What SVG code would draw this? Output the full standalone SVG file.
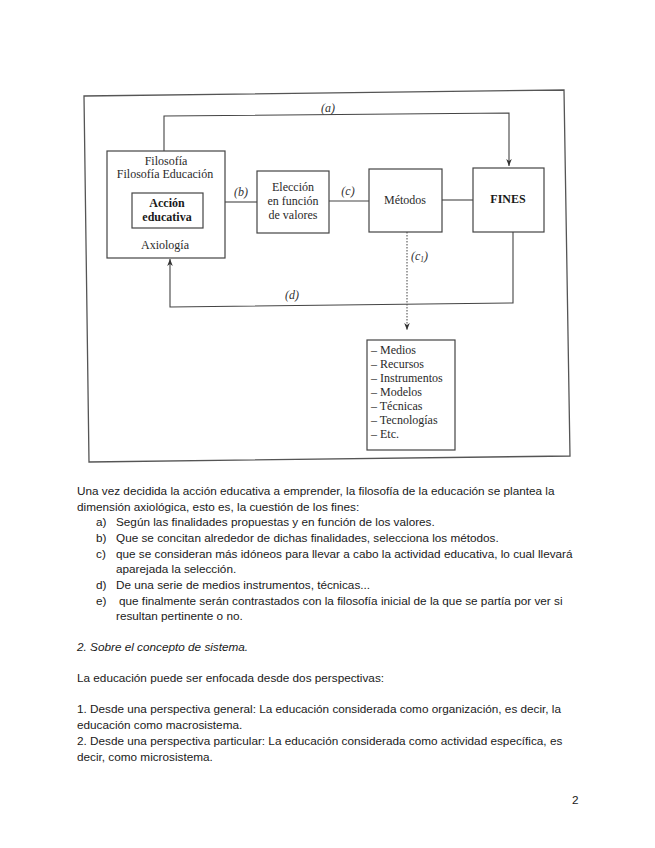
<svg xmlns="http://www.w3.org/2000/svg" width="655" height="848" viewBox="0 0 655 848">
<style>
.bg{fill:#ffffff}
.frame{fill:none;stroke:#555;stroke-width:1.3}
.box{fill:#ffffff;stroke:#444;stroke-width:1.2}
.ln{fill:none;stroke:#444;stroke-width:1.1}
.dot{fill:none;stroke:#555;stroke-width:1.1;stroke-dasharray:1.5 1.5}
.dt{font-family:"Liberation Serif","Times New Roman",serif;font-size:12px;fill:#2a2a2a}
.dtb{font-family:"Liberation Serif","Times New Roman",serif;font-size:12px;font-weight:bold;fill:#1a1a1a}
.lbl{font-family:"Liberation Serif","Times New Roman",serif;font-size:12px;font-style:italic;fill:#333}
.bt{font-family:"Liberation Sans",Arial,sans-serif;font-size:11.75px;fill:#1a1a1a}
.bti{font-family:"Liberation Sans",Arial,sans-serif;font-size:11.75px;font-style:italic;fill:#1a1a1a}
</style>
<defs>
<marker id="ah" viewBox="0 0 10 10" refX="10" refY="5" markerWidth="7" markerHeight="9" markerUnits="userSpaceOnUse" orient="auto">
<path d="M0,1 L10,5 L0,9 L3,5 z" fill="#333"/>
</marker>
</defs>
<rect class="bg" x="0" y="0" width="655" height="848"/>
<polygon class="frame" points="84,96 564,90 570,456 89,462"/>

<g id="connectors">
<path class="ln" d="M164,151 L164,116 L509,113 L509,166" marker-end="url(#ah)"/>
<line class="ln" x1="225" y1="202" x2="257" y2="202"/>
<line class="ln" x1="329" y1="201" x2="369" y2="201"/>
<line class="ln" x1="442" y1="200" x2="473" y2="200"/>
<path class="ln" d="M513,232 L513,303 L170,307 L170,259" marker-end="url(#ah)"/>
<path class="dot" d="M407,232 L407,330" marker-end="url(#ah)"/>
<text class="lbl" x="328" y="112" text-anchor="middle">(a)</text>
<text class="lbl" x="241" y="196" text-anchor="middle">(b)</text>
<text class="lbl" x="348" y="195" text-anchor="middle">(c)</text>
<text class="lbl" x="411" y="260">(c<tspan font-size="7.5" dy="2">1</tspan><tspan dy="-2">)</tspan></text>
<text class="lbl" x="292" y="299" text-anchor="middle">(d)</text>
</g>

<g id="filosofia">
<rect class="box" x="107" y="151" width="118" height="107"/>
<text class="dt" x="166" y="165" text-anchor="middle">Filosofía</text>
<text class="dt" x="165" y="178" text-anchor="middle">Filosofía Educación</text>
<rect class="box" x="132" y="193" width="71" height="35"/>
<text class="dtb" x="167" y="207" text-anchor="middle">Acción</text>
<text class="dtb" x="167" y="221" text-anchor="middle">educativa</text>
<text class="dt" x="165" y="249" text-anchor="middle">Axiología</text>
</g>

<g id="eleccion">
<rect class="box" x="257" y="171" width="72" height="62"/>
<text class="dt" x="293" y="191" text-anchor="middle">Elección</text>
<text class="dt" x="293" y="205" text-anchor="middle">en función</text>
<text class="dt" x="293" y="219" text-anchor="middle">de valores</text>
</g>

<g id="metodos">
<rect class="box" x="369" y="169" width="73" height="63"/>
<text class="dt" x="405" y="204" text-anchor="middle">Métodos</text>
</g>

<g id="fines">
<rect class="box" x="473" y="168" width="71" height="64"/>
<text class="dtb" x="508" y="203" text-anchor="middle">FINES</text>
</g>

<g id="medios">
<rect class="box" x="367" y="340" width="88" height="110"/>
<text class="dt" x="371" y="354">– Medios</text>
<text class="dt" x="371" y="368">– Recursos</text>
<text class="dt" x="371" y="382">– Instrumentos</text>
<text class="dt" x="371" y="396">– Modelos</text>
<text class="dt" x="371" y="410">– Técnicas</text>
<text class="dt" x="371" y="424">– Tecnologías</text>
<text class="dt" x="371" y="438">– Etc.</text>
</g>

<g id="texto">
<text class="bt" x="77" y="495">Una vez decidida la acción educativa a emprender, la filosofía de la educación se plantea la</text>
<text class="bt" x="77" y="511">dimensión axiológica, esto es, la cuestión de los fines:</text>
<text class="bt" x="96" y="526">a)</text>
<text class="bt" x="116" y="526">Según las finalidades propuestas y en función de los valores.</text>
<text class="bt" x="96" y="542">b)</text>
<text class="bt" x="116" y="542">Que se concitan alrededor de dichas finalidades, selecciona los métodos.</text>
<text class="bt" x="96" y="558">c)</text>
<text class="bt" x="116" y="558">que se consideran más idóneos para llevar a cabo la actividad educativa, lo cual llevará</text>
<text class="bt" x="116" y="573">aparejada la selección.</text>
<text class="bt" x="96" y="589">d)</text>
<text class="bt" x="116" y="589">De una serie de medios instrumentos, técnicas...</text>
<text class="bt" x="96" y="605">e)</text>
<text class="bt" x="119" y="605">que finalmente serán contrastados con la filosofía inicial de la que se partía por ver si</text>
<text class="bt" x="116" y="620">resultan pertinente o no.</text>
<text class="bti" x="77" y="651">2. Sobre el concepto de sistema.</text>
<text class="bt" x="77" y="682">La educación puede ser enfocada desde dos perspectivas:</text>
<text class="bt" x="77" y="713">1. Desde una perspectiva general: La educación considerada como organización, es decir, la</text>
<text class="bt" x="77" y="729">educación como macrosistema.</text>
<text class="bt" x="77" y="745">2. Desde una perspectiva particular: La educación considerada como actividad específica, es</text>
<text class="bt" x="77" y="761">decir, como microsistema.</text>
<text class="bt" x="572" y="804">2</text>
</g>
</svg>
